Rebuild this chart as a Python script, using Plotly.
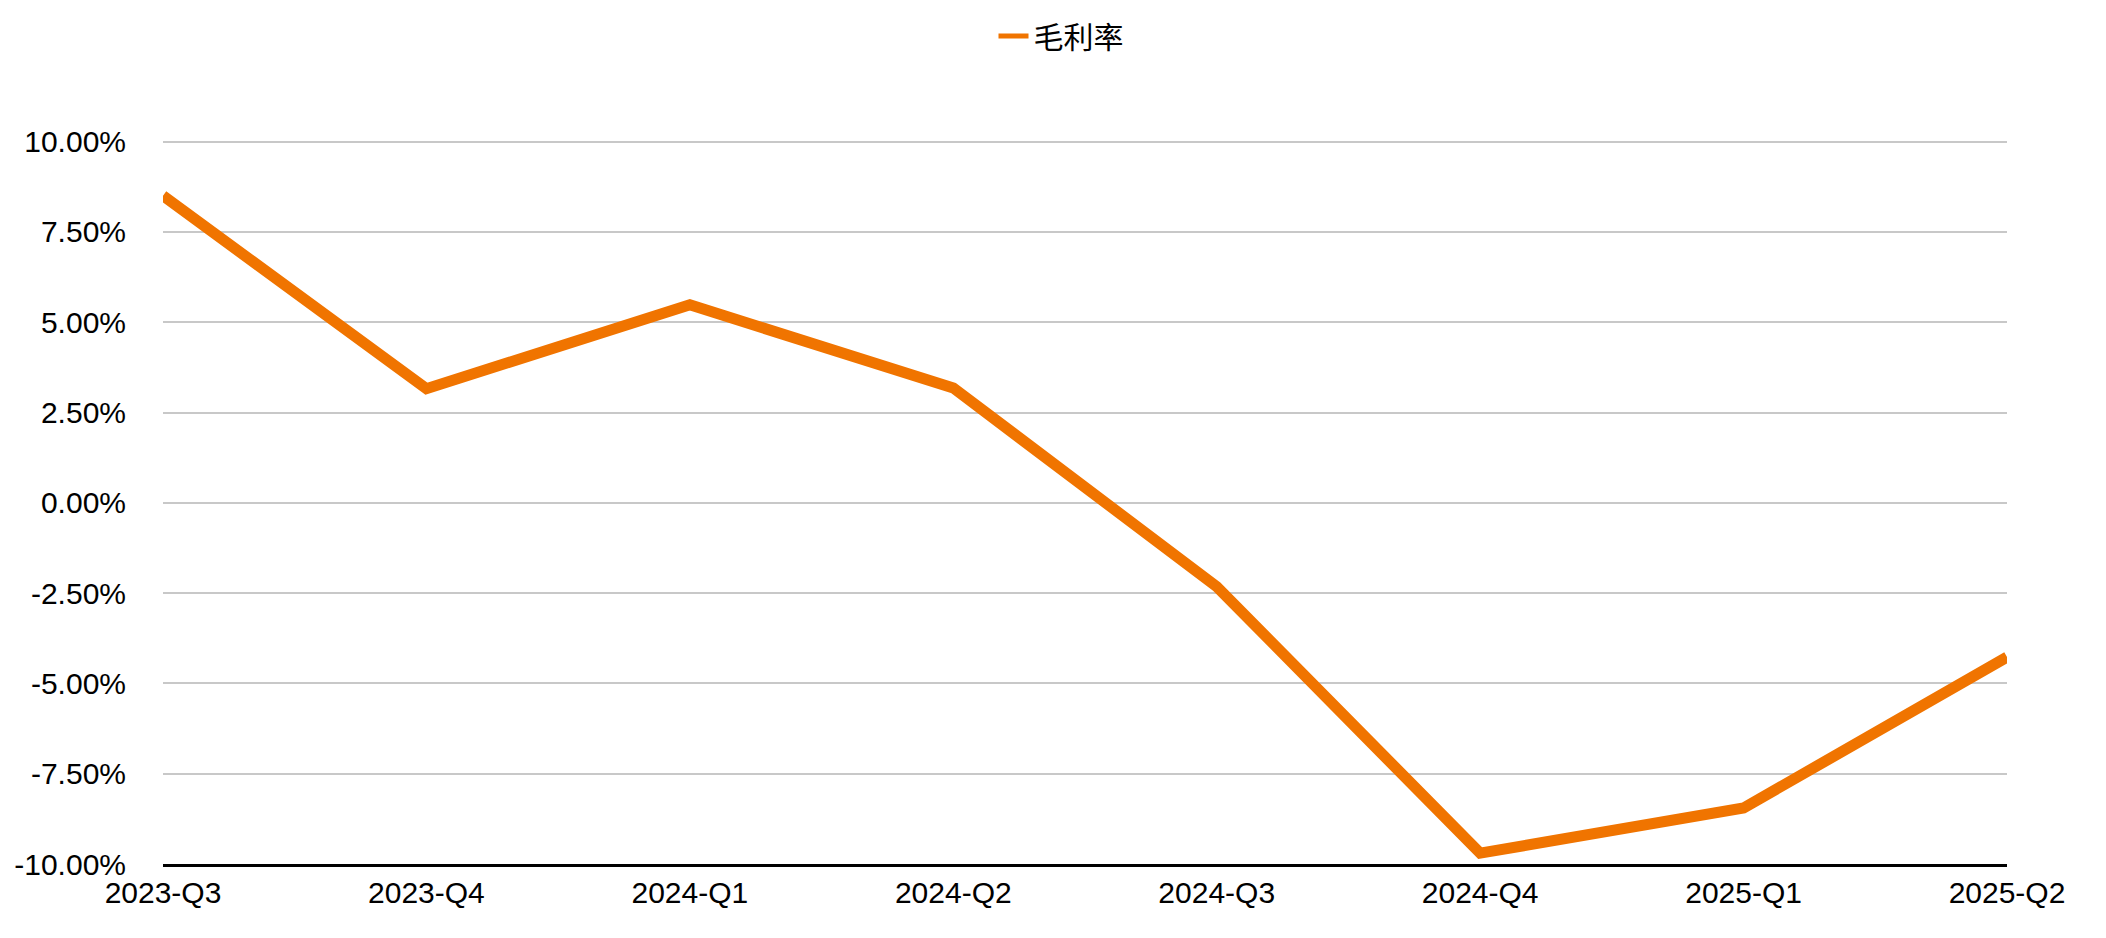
import plotly.graph_objects as go

categories = ["2023-Q3", "2023-Q4", "2024-Q1", "2024-Q2", "2024-Q3", "2024-Q4", "2025-Q1", "2025-Q2"]
gross_margin = [8.50, 3.16, 5.48, 3.18, -2.32, -9.70, -8.45, -4.27]
series_name = "毛利率"
y_tick_vals = [-10, -7.5, -5, -2.5, 0, 2.5, 5, 7.5, 10]
y_tick_text = ["-10.00%", "-7.50%", "-5.00%", "-2.50%", "0.00%", "2.50%", "5.00%", "7.50%", "10.00%"]

ORANGE = "#F07400"
FONT = "Liberation Sans, Noto Sans CJK SC, Arial, sans-serif"

fig = go.Figure()
fig.add_trace(go.Scatter(
    x=list(range(len(categories))), y=gross_margin, mode="lines",
    line=dict(color=ORANGE, width=11), showlegend=False, hoverinfo="skip",
))
# legend entry (thinner sample line as in the reference)
fig.add_trace(go.Scatter(
    x=[None], y=[None], mode="lines", name=series_name,
    line=dict(color=ORANGE, width=5), showlegend=True,
))

fig.update_layout(
    width=2106, height=938,
    paper_bgcolor="white", plot_bgcolor="white",
    margin=dict(l=155, r=107, t=130, b=82, autoexpand=False),
    font=dict(family=FONT, size=30, color="#000000"),
    legend=dict(orientation="h", xref="container", x=0.5, xanchor="center",
                yref="container", y=1 - 28 / 938, yanchor="middle",
                font=dict(size=30), bgcolor="rgba(0,0,0,0)"),
    xaxis=dict(
        range=[0, len(categories) - 1],
        tickmode="array", tickvals=list(range(len(categories))), ticktext=categories,
        showgrid=False, zeroline=False, showline=True, linecolor="#000000", linewidth=3,
        ticks="", tickfont=dict(size=30, color="#000000"),
    ),
    yaxis=dict(
        range=[-10, 10.1],
        tickmode="array", tickvals=y_tick_vals, ticktext=y_tick_text,
        showgrid=True, gridcolor="#C8C8C8", gridwidth=2, zeroline=False,
        showline=False, ticks="", ticklabelstandoff=36,
        tickfont=dict(size=30, color="#000000"),
    ),
)

fig.write_html("out.html")
